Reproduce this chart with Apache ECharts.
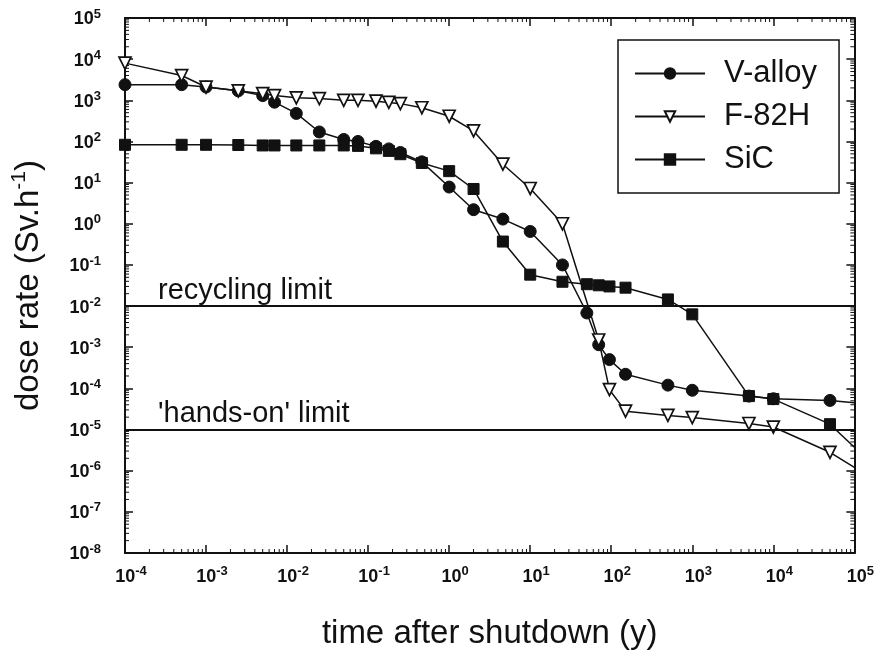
<!DOCTYPE html>
<html>
<head>
<meta charset="utf-8">
<script src="https://cdn.jsdelivr.net/npm/echarts@6/dist/echarts.min.js"></script>
<style>html,body{margin:0;padding:0;background:#fff}#c{width:877px;height:655px}</style>
</head>
<body>
<div id="c"></div>
<script>
// ---- data ----
const seriesNames = ['V-alloy', 'F-82H', 'SiC'];
const timeV = [1e-4, 5e-4, 1e-3, 2.5e-3, 5e-3, 7e-3, 0.013, 0.025, 0.05, 0.075, 0.125, 0.18, 0.25, 0.46, 1, 2, 4.6, 10, 25, 50, 70, 95, 150, 500, 1000, 5000, 1e4, 5e4, 1e5];
const doseV = [2400, 2400, 2100, 1700, 1300, 900, 480, 170, 112, 100, 76, 66, 54, 32, 7.8, 2.2, 1.3, 0.65, 0.10, 6.8e-3, 1.15e-3, 5e-4, 2.2e-4, 1.2e-4, 9e-5, 6.5e-5, 5.6e-5, 5.1e-5, 4.5e-5];
const timeF = [1e-4, 5e-4, 1e-3, 2.5e-3, 5e-3, 7e-3, 0.013, 0.025, 0.05, 0.075, 0.125, 0.18, 0.25, 0.46, 1, 2, 4.6, 10, 25, 70, 95, 150, 500, 1000, 5000, 1e4, 5e4, 1e5];
const doseF = [8000, 4000, 2100, 1700, 1450, 1300, 1150, 1100, 1000, 1000, 950, 890, 830, 660, 410, 180, 28, 7.2, 1.0, 1.5e-3, 9.3e-5, 2.8e-5, 2.2e-5, 1.95e-5, 1.4e-5, 1.15e-5, 2.8e-6, 1.2e-6];
const timeS = [1e-4, 5e-4, 1e-3, 2.5e-3, 5e-3, 7e-3, 0.013, 0.025, 0.05, 0.075, 0.125, 0.18, 0.25, 0.46, 1, 2, 4.6, 10, 25, 50, 70, 95, 150, 500, 1000, 5000, 1e4, 5e4, 1e5];
const doseS = [83, 83, 83, 82, 80, 80, 80, 80, 80, 78, 68, 59, 49, 30, 19, 7, 0.37, 0.058, 0.039, 0.034, 0.032, 0.030, 0.028, 0.0145, 6.3e-3, 6.5e-5, 5.5e-5, 1.35e-5, 3.7e-6];
const limitValues = [1e-2, 1e-5];
const limitLabels = ['recycling limit', "'hands-on' limit"];
const xMin = 1e-4, xMax = 1e5, yMin = 1e-8, yMax = 1e5;
const xTitle = 'time after shutdown (y)';
const yTitle = ['dose rate (Sv.h', '-1', ')'];

// ---- chart ----
const INK = '#111';
const chart = echarts.init(document.getElementById('c'), null, {renderer: 'canvas'});

function pairs(xs, ys) {
  return xs.map((x, i) => {
    const item = {value: [x, ys[i]]};
    if (x >= xMax) item.symbol = 'none';
    return item;
  });
}
function expLabel(v) {
  const e = Math.round(Math.log10(v));
  return '{b|10}{s|' + e + '}';
}
const NARROW = 'Liberation Sans Narrow, Arial Narrow, Liberation Sans, Arial, sans-serif';
const SANS = 'Liberation Sans, Arial, Helvetica, sans-serif';
const tickRich = {
  b: {fontFamily: NARROW, fontWeight: 'bold', fontSize: 18, color: INK, lineHeight: 21, verticalAlign: 'bottom'},
  s: {fontFamily: NARROW, fontWeight: 'bold', fontSize: 13, color: INK, lineHeight: 21, verticalAlign: 'top', padding: [0, 0, 6, 0]}
};

const markerStyles = [
  {symbol: 'circle', symbolSize: 12, itemStyle: {color: INK, borderColor: INK, borderWidth: 1}},
  {symbol: 'triangle', symbolRotate: 180, symbolSize: 12, itemStyle: {color: '#fff', borderColor: INK, borderWidth: 1.7}},
  {symbol: 'rect', symbolSize: 11, itemStyle: {color: INK, borderColor: INK, borderWidth: 1}}
];
const dataSets = [pairs(timeV, doseV), pairs(timeF, doseF), pairs(timeS, doseS)];

const lineSeries = seriesNames.map((name, i) => Object.assign({
  name: name,
  type: 'line',
  xAxisIndex: 0, yAxisIndex: 0,
  data: dataSets[i],
  lineStyle: {color: INK, width: 1.5},
  showAllSymbol: true,
  animation: false,
  z: 3 + i
}, markerStyles[i]));

// minor log ticks on all four sides (decoration, placed through the axes)
const minorTickSeries = {
  type: 'custom',
  xAxisIndex: 0, yAxisIndex: 0,
  silent: true,
  animation: false,
  data: [[1, 1]],
  renderItem: function (params, api) {
    const cs = params.coordSys;
    const children = [];
    const L = 4;
    const st = {stroke: INK, lineWidth: 1};
    for (let k = Math.log10(xMin); k < Math.log10(xMax); k++) {
      for (let m = 2; m <= 9; m++) {
        const p = api.coord([m * Math.pow(10, k), 1]);
        children.push({type: 'line', shape: {x1: p[0], y1: cs.y + cs.height, x2: p[0], y2: cs.y + cs.height - L}, style: st});
        children.push({type: 'line', shape: {x1: p[0], y1: cs.y, x2: p[0], y2: cs.y + L}, style: st});
      }
    }
    for (let k = Math.log10(yMin); k < Math.log10(yMax); k++) {
      for (let m = 2; m <= 9; m++) {
        const p = api.coord([1, m * Math.pow(10, k)]);
        children.push({type: 'line', shape: {x1: cs.x, y1: p[1], x2: cs.x + L, y2: p[1]}, style: st});
        children.push({type: 'line', shape: {x1: cs.x + cs.width, y1: p[1], x2: cs.x + cs.width - L, y2: p[1]}, style: st});
      }
    }
    return {type: 'group', children: children};
  },
  z: 1
};

const limitSeries = limitValues.map((v, i) => ({
  name: 'limit' + i,
  type: 'line',
  xAxisIndex: 0, yAxisIndex: 0,
  data: [],
  animation: false,
  markLine: {
    silent: true,
    animation: false,
    symbol: ['none', 'none'],
    lineStyle: {color: INK, width: 2, type: 'solid'},
    label: {
      show: true,
      position: 'insideStartTop',
      formatter: '{b}',
      color: INK,
      fontFamily: SANS,
      fontSize: 29,
      padding: [0, 0, 0, 32],
      distance: 1
    },
    data: [[{coord: [xMin, v], name: limitLabels[i]}, {coord: [xMax, v]}]]
  },
  z: 2
}));

const axisCommon = {
  type: 'log',
  logBase: 10,
  axisLine: {show: true, lineStyle: {color: INK, width: 2}},
  axisTick: {show: true, inside: true, length: 8, lineStyle: {color: INK, width: 1.5}},
  splitLine: {show: false},
  minorTick: {show: false},
  minorSplitLine: {show: false}
};

const option = {
  backgroundColor: '#fff',
  animation: false,
  grid: {left: 125, right: 22, top: 18, bottom: 100, containLabel: false},
  legend: {
    data: seriesNames,
    orient: 'vertical',
    left: 618, top: 40,
    padding: [18, 22, 18, 16],
    itemGap: 12,
    itemWidth: 70,
    itemHeight: 13,
    borderColor: INK,
    borderWidth: 1.5,
    backgroundColor: '#fff',
    textStyle: {color: INK, fontSize: 31, fontFamily: SANS, padding: [0, 0, 0, 14]}
  },
  xAxis: [
    Object.assign({}, axisCommon, {
      position: 'bottom', min: xMin, max: xMax, interval: 1,
      axisLabel: {show: true, margin: 12, formatter: expLabel, rich: tickRich, padding: [0, 0, 0, 12]},
      name: xTitle, nameLocation: 'middle', nameGap: 64,
      nameTextStyle: {color: INK, fontSize: 33, fontFamily: SANS}
    }),
    Object.assign({}, axisCommon, {
      position: 'top', min: xMin, max: xMax, interval: 1,
      axisLabel: {show: false}
    })
  ],
  yAxis: [
    Object.assign({}, axisCommon, {
      position: 'left', min: yMin, max: yMax, interval: 1,
      axisLabel: {show: true, margin: 24, formatter: expLabel, rich: tickRich},
      name: '{t|' + yTitle[0] + '}{s|' + yTitle[1] + '}{t|' + yTitle[2] + '}',
      nameLocation: 'middle', nameGap: 80, nameRotate: 90,
      nameTextStyle: {
        color: INK,
        rich: {
          t: {fontSize: 33, fontFamily: SANS, color: INK, lineHeight: 36, verticalAlign: 'bottom'},
          s: {fontSize: 21, fontFamily: SANS, color: INK, lineHeight: 36, verticalAlign: 'top'}
        }
      }
    }),
    Object.assign({}, axisCommon, {
      position: 'right', min: yMin, max: yMax, interval: 1,
      axisLabel: {show: false}
    })
  ],
  series: [minorTickSeries].concat(limitSeries, lineSeries)
};
chart.setOption(option);
</script>
</body>
</html>
